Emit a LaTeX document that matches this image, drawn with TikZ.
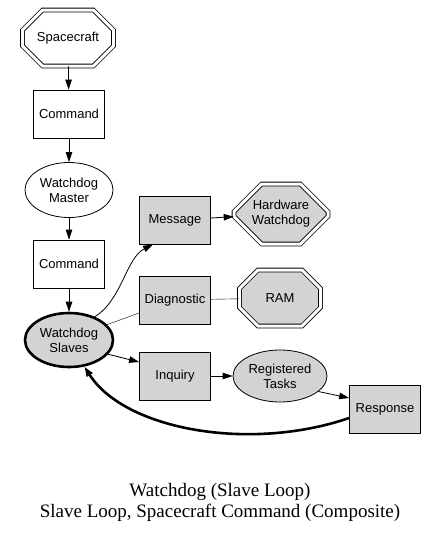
\documentclass[tikz,border=0pt]{standalone}
\usepackage{fontspec}
\setmainfont{Liberation Serif}
\newfontfamily\gvfont{Liberation Sans}
\usetikzlibrary{shapes.geometric,shapes.misc,arrows.meta,calc}
\definecolor{gvgray}{RGB}{211,211,211}
\begin{document}
\begin{tikzpicture}[x=1pt,y=-1pt,
  every node/.style={font=\gvfont\fontsize{13}{15}\selectfont,align=center,inner sep=0pt,line width=0.8pt},
  box/.style={draw,rectangle,minimum width=71pt,minimum height=48pt},
  oval/.style={draw,ellipse,minimum width=88pt,minimum height=55pt},
  octo/.style={draw,chamfered rectangle,chamfered rectangle xsep=20pt,chamfered rectangle ysep=14pt,double,double distance=3pt,line width=0.8pt},
  shaded/.style={fill=gvgray},
  arr/.style={-{Triangle[length=10pt,width=6.5pt]},line width=0.8pt}]
  \useasboundingbox (0,0) rectangle (439,533);
  \node[octo,minimum width=91pt,minimum height=56pt] (sc) at (68,38) {Spacecraft};
  \node[box] (cmda) at (69,114) {Command};
  \node[oval] (wm) at (69,190) {Watchdog\\Master};
  \node[box] (cmdb) at (69,264) {Command};
  \node[oval,shaded,line width=2.6pt,minimum height=54pt] (ws) at (69,340) {Watchdog\\Slaves};
  \node[box,shaded] (msg) at (175,220) {Message};
  \node[box,shaded] (diag) at (175,300) {Diagnostic};
  \node[box,shaded] (inq) at (175,376) {Inquiry};
  \node[octo,shaded,minimum width=94pt,minimum height=60pt] (hw) at (281,214) {Hardware\\Watchdog};
  \node[octo,shaded,minimum width=81pt,minimum height=56pt] (ram) at (280,298) {RAM};
  \node[oval,shaded,minimum width=94pt,minimum height=52pt] (rt) at (280,376) {Registered\\Tasks};
  \node[box,shaded] (resp) at (385,409) {Response};
  \draw[arr] (sc) -- (cmda);
  \draw[arr] (cmda) -- (wm);
  \draw[arr] (wm) -- (cmdb);
  \draw[arr] (cmdb) -- (ws);
  \draw[arr] (ws.42) .. controls (122,300) and (126,258) .. ($(msg.south west)+(14,0)$);
  \draw (ws.22) -- ($(diag.west)+(0,13)$);
  \draw[arr] (ws.-20) -- ($(inq.west)+(0,-14)$);
  \draw[arr] (msg) -- (hw);
  \draw (diag) -- (ram);
  \draw[arr] (inq) -- (rt);
  \draw[arr] (rt.-22) -- ($(resp.west)+(0,-11)$);
  \draw[arr,line width=2.6pt] ($(resp.west)+(0,9)$) .. controls (250,452) and (125,430) .. (ws.-60);
  \node[font=\fontsize{19}{21}\selectfont] (cap) at (220,502) {Watchdog (Slave Loop)\\Slave Loop, Spacecraft Command (Composite)};
\end{tikzpicture}
\end{document}
